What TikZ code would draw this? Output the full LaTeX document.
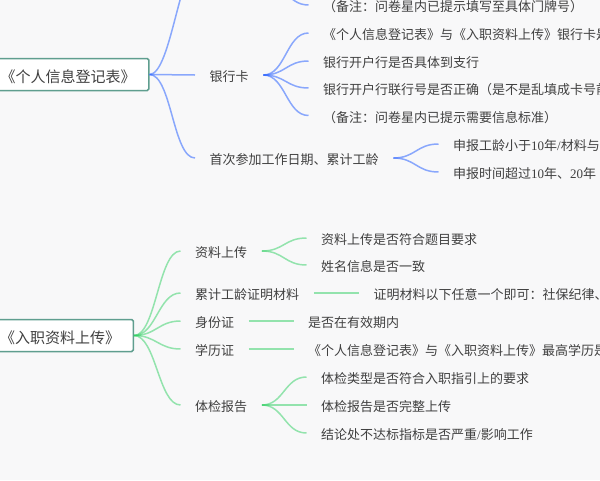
\documentclass[tikz,border=0pt]{standalone}
\usepackage{fontspec}
\setmainfont{Noto Sans CJK SC}
\newfontfamily\lat{Liberation Serif}
\definecolor{bgc}{HTML}{F8F8F9}
\definecolor{txt}{HTML}{404040}
\definecolor{rootb}{HTML}{5F9E8F}
\definecolor{blu}{HTML}{2F66FF}
\definecolor{grn}{HTML}{2FD062}
\tikzset{
  rootbox/.style={draw=rootb,fill=white,line width=1.5pt,rounded corners=1.5pt,anchor=east,minimum height=32pt,inner xsep=13pt,inner ysep=0pt,font=\fontsize{15}{15}\selectfont,text=txt,text height=17pt,text depth=1.6pt},
  item/.style={anchor=west,inner xsep=14.5pt,inner ysep=0pt,font=\fontsize{13}{13}\selectfont,text=txt,text height=15pt,text depth=2pt},
  bl/.style={draw=blu,draw opacity=.55,line width=1.5pt},
  gl/.style={draw=grn,draw opacity=.5,line width=1.5pt},
  cv/.style={to path={.. controls +(#1,0) and +(-#1,0) .. (\tikztotarget)}},
  cv/.default=20
}
\begin{document}
\begin{tikzpicture}[x=1pt,y=-1pt]
\useasboundingbox (0,0) rectangle (600,480);
\fill[bgc] (0,0) rectangle (600,480);
\clip (0,0) rectangle (600,480);
% upper tree
\node[rootbox] (r1) at (149.5,74.5) {《个人信息登记表》};
\node[item] (bank) at (195,75) {银行卡};
\node[item] (first) at (195,158) {首次参加工作日期、累计工龄};
\coordinate (offa) at (202,-42);
\coordinate (offb) at (262,-20);
\node[item] (b0) at (308.5,5) {（备注：问卷星内已提示填写至具体门牌号）};
\node[item] (b1) at (308.5,33) {《个人信息登记表》与《入职资料上传》银行卡是};
\node[item] (b2) at (308.5,61) {银行开户行是否具体到支行};
\node[item] (b3) at (308.5,88) {银行开户行联行号是否正确（是不是乱填成卡号前};
\node[item] (b4) at (308.5,115.5) {（备注：问卷星内已提示需要信息标准）};
\node[item] (f1) at (438.5,144) {申报工龄小于{\lat 10}年{\lat /}材料与};
\node[item] (f2) at (438.5,172) {申报时间超过{\lat 10}年、{\lat 20}年};
\draw[bl] (r1.east) to[cv=22] (offa);
\draw[bl] (r1.east) -- (bank.west);
\draw[bl] (r1.east) to[cv=22] (first.west);
\draw[bl] (offb) to[cv=22] (b0.west);
\foreach \n in {b1,b2,b3,b4} \draw[bl] (bank.east) to[cv=22] (\n.west);
\foreach \n in {f1,f2} \draw[bl] (first.east) to[cv=22] (\n.west);
% lower tree
\node[rootbox] (r2) at (134,335.5) {《入职资料上传》};
\node[item] (g1) at (180.5,251) {资料上传};
\node[item] (g2) at (180.5,293) {累计工龄证明材料};
\node[item] (g3) at (180.5,321) {身份证};
\node[item] (g4) at (180.5,349) {学历证};
\node[item] (g5) at (180.5,405) {体检报告};
\node[item] (h1) at (306.5,238) {资料上传是否符合题目要求};
\node[item] (h2) at (306.5,265) {姓名信息是否一致};
\node[item] (h3) at (359,293) {证明材料以下任意一个即可：社保纪律、};
\node[item] (h4) at (293.5,321) {是否在有效期内};
\node[item] (h5) at (293.5,349) {《个人信息登记表》与《入职资料上传》最高学历是};
\node[item] (h6) at (306.5,377) {体检类型是否符合入职指引上的要求};
\node[item] (h7) at (306.5,405) {体检报告是否完整上传};
\node[item] (h8) at (306.5,433) {结论处不达标指标是否严重{\lat /}影响工作};
\foreach \n in {g1,g2,g3,g4,g5} \draw[gl] (r2.east) to[cv=22] (\n.west);
\foreach \n in {h1,h2} \draw[gl] (g1.east) to[cv=22] (\n.west);
\draw[gl] (g2.east) -- (h3.west);
\draw[gl] (g3.east) -- (h4.west);
\draw[gl] (g4.east) -- (h5.west);
\foreach \n in {h6,h7,h8} \draw[gl] (g5.east) to[cv=22] (\n.west);
\end{tikzpicture}
\end{document}
